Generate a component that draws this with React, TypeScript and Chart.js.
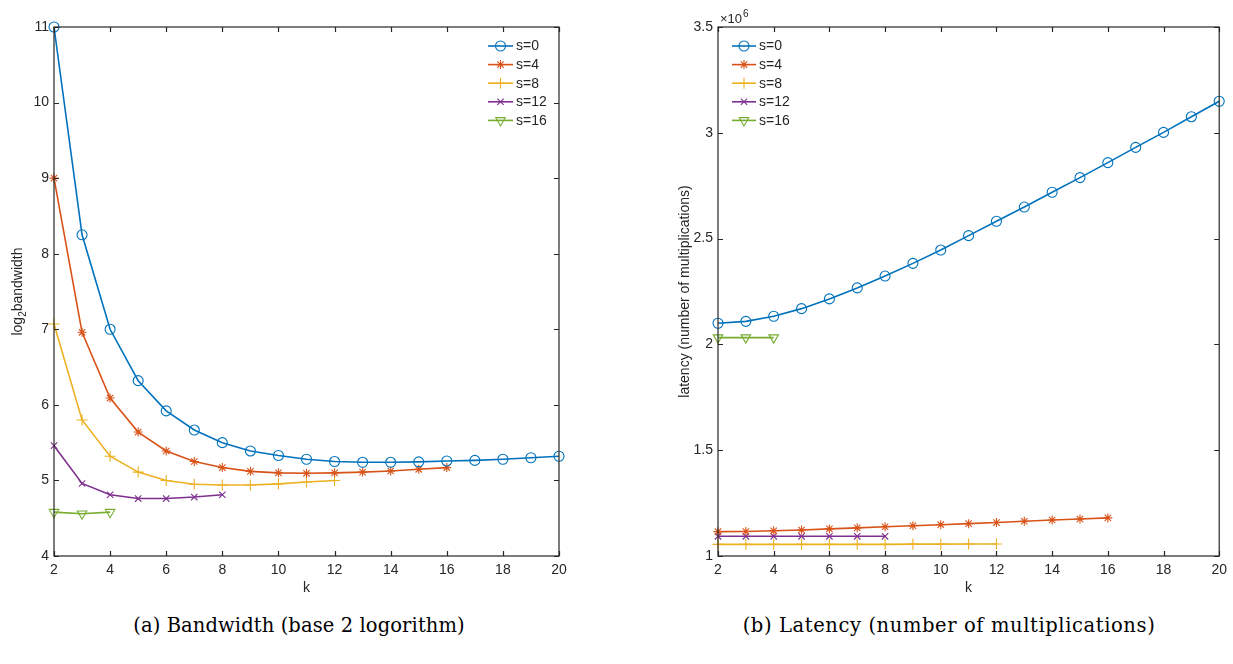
import React, { useEffect, useRef } from 'react';
import { Chart, registerables } from 'chart.js';
import { drawPoint } from 'chart.js/helpers';

Chart.register(...registerables);

// ---------- data ----------
const seriesLabels = ['s=0', 's=4', 's=8', 's=12', 's=16'];

const k0 = [2, 3, 4, 5, 6, 7, 8, 9, 10, 11, 12, 13, 14, 15, 16, 17, 18, 19, 20];
const k4 = [2, 3, 4, 5, 6, 7, 8, 9, 10, 11, 12, 13, 14, 15, 16];
const k8 = [2, 3, 4, 5, 6, 7, 8, 9, 10, 11, 12];
const k12 = [2, 3, 4, 5, 6, 7, 8];
const k16 = [2, 3, 4];

// log2 bandwidth
const bw0 = [11, 8.25, 7.0, 6.32, 5.92, 5.667, 5.5, 5.39, 5.33, 5.28, 5.25, 5.24, 5.24, 5.245, 5.257, 5.265, 5.28, 5.3, 5.32];
const bw4 = [9.0, 6.96, 6.09, 5.64, 5.39, 5.25, 5.17, 5.12, 5.1, 5.094, 5.1, 5.11, 5.125, 5.147, 5.17];
const bw8 = [7.07, 5.8, 5.32, 5.11, 5.0, 4.95, 4.94, 4.94, 4.955, 4.98, 5.0];
const bw12 = [5.46, 4.96, 4.81, 4.76, 4.76, 4.78, 4.81];
const bw16 = [4.58, 4.56, 4.58];

// latency (x 10^6 multiplications)
const lat0 = [2.1, 2.109, 2.133, 2.169, 2.215, 2.267, 2.323, 2.383, 2.446, 2.514, 2.582, 2.649, 2.719, 2.788, 2.859, 2.931, 3.002, 3.076, 3.149];
const lat4 = [1.115, 1.116, 1.119, 1.123, 1.128, 1.133, 1.138, 1.143, 1.148, 1.153, 1.158, 1.164, 1.17, 1.175, 1.18];
const lat8 = [1.055, 1.055, 1.055, 1.055, 1.055, 1.055, 1.055, 1.056, 1.056, 1.057, 1.057];
const lat12 = [1.093, 1.093, 1.093, 1.093, 1.093, 1.093, 1.093];
const lat16 = [2.032, 2.032, 2.032];

const xTicks = [2, 4, 6, 8, 10, 12, 14, 16, 18, 20];
const bwTicks = [4, 5, 6, 7, 8, 9, 10, 11];
const latTicks = [1, 1.5, 2, 2.5, 3, 3.5];

// ---------- styles ----------
const COLORS = ['#0072BD', '#D95319', '#EDB120', '#7E2F8E', '#77AC30'];
const MARKERS = [
  { style: 'circle', radius: 5, rotation: 0 },
  { style: 'star', radius: 4.5, rotation: 0 },
  { style: 'cross', radius: 5.5, rotation: 0 },
  { style: 'crossRot', radius: 4.5, rotation: 0 },
  { style: 'triangle', radius: 5.5, rotation: 180 },
];
const INK = '#262626';
const FONT = "'Liberation Sans', Arial, Helvetica, sans-serif";

function pts(xs: number[], ys: number[]) {
  return xs.map((x, i) => ({ x, y: ys[i] }));
}

function makeDatasets(xsList: number[][], ysList: number[][]) {
  return xsList.map((xs, i) => ({
    label: seriesLabels[i],
    data: pts(xs, ysList[i]),
    borderColor: COLORS[i],
    backgroundColor: 'rgba(0,0,0,0)',
    borderWidth: 1.6,
    pointStyle: MARKERS[i].style,
    pointRadius: MARKERS[i].radius,
    pointRotation: MARKERS[i].rotation,
    pointBorderColor: COLORS[i],
    pointBackgroundColor: 'rgba(0,0,0,0)',
    pointBorderWidth: 1.1,
    tension: 0,
    clip: 20,
  }));
}

type TextPart = { t: string; size: number; dy?: number };

function drawParts(ctx: CanvasRenderingContext2D, parts: TextPart[], cx: number, cy: number, rot: number) {
  ctx.save();
  ctx.translate(cx, cy);
  ctx.rotate(rot);
  let w = 0;
  parts.forEach((p) => {
    ctx.font = `${p.size}px ${FONT}`;
    w += ctx.measureText(p.t).width;
  });
  let x = -w / 2;
  ctx.textBaseline = 'middle';
  ctx.textAlign = 'left';
  parts.forEach((p) => {
    ctx.font = `${p.size}px ${FONT}`;
    ctx.fillText(p.t, x, p.dy || 0);
    x += ctx.measureText(p.t).width;
  });
  ctx.restore();
}

const matlabPlugin = {
  id: 'matlab',
  afterDraw(chart: any, _args: any, o: any) {
    const { ctx, chartArea: a, scales } = chart;
    const xs = scales.x;
    const ys = scales.y;
    ctx.save();
    ctx.strokeStyle = INK;
    ctx.lineWidth = 1.2;
    ctx.strokeRect(a.left, a.top, a.right - a.left, a.bottom - a.top);
    const tl = 5;
    ctx.beginPath();
    xs.ticks.forEach((t: any) => {
      const px = Math.round(xs.getPixelForValue(t.value)) + 0.5;
      ctx.moveTo(px, a.bottom);
      ctx.lineTo(px, a.bottom - tl);
      ctx.moveTo(px, a.top);
      ctx.lineTo(px, a.top + tl);
    });
    ys.ticks.forEach((t: any) => {
      const py = Math.round(ys.getPixelForValue(t.value)) + 0.5;
      ctx.moveTo(a.left, py);
      ctx.lineTo(a.left + tl, py);
      ctx.moveTo(a.right, py);
      ctx.lineTo(a.right - tl, py);
    });
    ctx.stroke();

    // legend
    const L = o.legend;
    chart.data.datasets.forEach((ds: any, i: number) => {
      const y = L.y0 + i * L.dy;
      ctx.strokeStyle = ds.borderColor;
      ctx.lineWidth = 1.6;
      ctx.beginPath();
      ctx.moveTo(L.x0, y);
      ctx.lineTo(L.x1, y);
      ctx.stroke();
      ctx.fillStyle = 'rgba(0,0,0,0)';
      ctx.lineWidth = 1.1;
      drawPoint(ctx, { pointStyle: ds.pointStyle, rotation: ds.pointRotation, radius: ds.pointRadius, borderWidth: 1.1 } as any, (L.x0 + L.x1) / 2, y);
      ctx.fillStyle = INK;
      ctx.font = `14px ${FONT}`;
      ctx.textAlign = 'left';
      ctx.textBaseline = 'middle';
      ctx.fillText(ds.label, L.tx, y + 0.5);
    });

    ctx.fillStyle = INK;
    // x label
    drawParts(ctx, [{ t: 'k', size: 14 }], (a.left + a.right) / 2, o.xLabelY, 0);
    // y label
    drawParts(ctx, o.yLabel, o.yLabelX, (a.top + a.bottom) / 2, -Math.PI / 2);
    // exponent
    if (o.exponent) {
      ctx.font = `13px ${FONT}`;
      ctx.textAlign = 'left';
      ctx.textBaseline = 'alphabetic';
      ctx.fillText('\u00d710', a.left + 2, a.top - 4);
      const w = ctx.measureText('\u00d710').width;
      ctx.font = `10px ${FONT}`;
      ctx.fillText('6', a.left + 2 + w + 1, a.top - 10);
    }
    ctx.restore();
  },
};

function makeConfig(datasets: any[], opts: any) {
  return {
    type: 'line',
    data: { datasets },
    plugins: [matlabPlugin],
    options: {
      responsive: false,
      animation: false,
      events: [],
      layout: { padding: { left: 0, top: 27, right: opts.padRight, bottom: 0 } },
      plugins: {
        legend: { display: false },
        tooltip: { enabled: false },
        matlab: opts.plugin,
      },
      scales: {
        x: {
          type: 'linear',
          min: 2,
          max: 20,
          afterBuildTicks: (s: any) => { s.ticks = xTicks.map((v) => ({ value: v })); },
          afterFit: (s: any) => { s.height = 44; },
          grid: { display: false, drawTicks: false },
          border: { display: false },
          ticks: { color: INK, font: { family: FONT, size: 14 }, padding: 6, maxRotation: 0, callback: (v: any) => String(v) },
        },
        y: {
          type: 'linear',
          min: opts.yMin,
          max: opts.yMax,
          afterBuildTicks: (s: any) => { s.ticks = opts.yTicks.map((v: number) => ({ value: v })); },
          afterFit: (s: any) => { s.width = opts.yWidth; },
          grid: { display: false, drawTicks: false },
          border: { display: false },
          ticks: { color: INK, font: { family: FONT, size: 14 }, padding: 5, callback: (v: any) => String(v) },
        },
      },
    },
  };
}

export default function App() {
  const r1 = useRef<HTMLCanvasElement>(null);
  const r2 = useRef<HTMLCanvasElement>(null);

  useEffect(() => {
    const ds1 = makeDatasets([k0, k4, k8, k12, k16], [bw0, bw4, bw8, bw12, bw16]);
    const ds2 = makeDatasets([k0, k4, k8, k12, k16], [lat0, lat4, lat8, lat12, lat16]);
    const c1 = new Chart(r1.current as HTMLCanvasElement, makeConfig(ds1, {
      padRight: 1233 - 559,
      yWidth: 54,
      yMin: 4,
      yMax: 11,
      yTicks: bwTicks,
      plugin: {
        legend: { x0: 488, x1: 513, tx: 516, y0: 46, dy: 18.6 },
        xLabelY: 588,
        yLabelX: 18,
        yLabel: [{ t: 'log', size: 14 }, { t: '2', size: 10, dy: 5 }, { t: 'bandwidth', size: 14 }],
        exponent: false,
      },
    }) as any);
    const c2 = new Chart(r2.current as HTMLCanvasElement, makeConfig(ds2, {
      padRight: 1233 - 1224,
      yWidth: 718,
      yMin: 1,
      yMax: 3.5,
      yTicks: latTicks,
      plugin: {
        legend: { x0: 732, x1: 756, tx: 759, y0: 46, dy: 18.6 },
        xLabelY: 588,
        yLabelX: 685,
        yLabel: [{ t: 'latency (number of multiplications)', size: 14 }],
        exponent: true,
      },
    }) as any);
    return () => {
      c1.destroy();
      c2.destroy();
    };
  }, []);

  const cap: React.CSSProperties = {
    position: 'absolute',
    top: 613,
    height: 26,
    lineHeight: '26px',
    textAlign: 'center',
    fontFamily: "'DejaVu Serif', 'Liberation Serif', serif",
    fontSize: 19.5,
    color: '#000',
    whiteSpace: 'nowrap',
  };

  return (
    <div style={{ position: 'fixed', left: 0, top: 0, width: 1233, height: 664, background: '#fff', overflow: 'hidden' }}>
      <canvas ref={r1} width={1233} height={600} style={{ position: 'absolute', left: 0, top: 0 }} />
      <canvas ref={r2} width={1233} height={600} style={{ position: 'absolute', left: 0, top: 0 }} />
      <div style={{ ...cap, left: 49, width: 500, letterSpacing: '0.1px' }}>(a) Bandwidth (base 2 logorithm)</div>
      <div style={{ ...cap, left: 649, width: 600, letterSpacing: '0.6px' }}>(b) Latency (number of multiplications)</div>
    </div>
  );
}
